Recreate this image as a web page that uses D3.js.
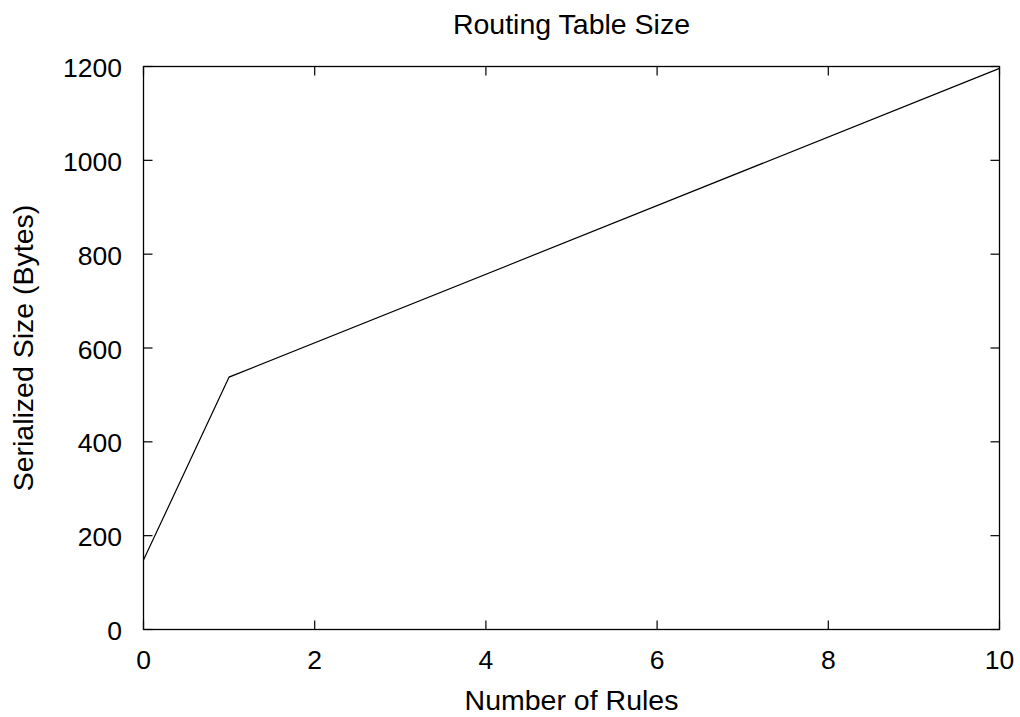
<!DOCTYPE html>
<html><head><meta charset="utf-8">
<script src="https://cdn.jsdelivr.net/npm/d3@7"></script>
<style>body{margin:0;background:#fff}svg{display:block}text{font-family:"Liberation Sans",Arial,sans-serif;fill:#000}</style>
</head><body>
<svg id="c" width="1020" height="717"></svg>
<script>
const rules = [0, 1, 10];
const sizes = [148, 538, 1196];
const xTicks = [0, 2, 4, 6, 8, 10];
const yTicks = [0, 200, 400, 600, 800, 1000, 1200];
const title = "Routing Table Size";
const xLabel = "Number of Rules";
const yLabel = "Serialized Size (Bytes)";

const svg = d3.select("#c");
const L = 143.5, R = 999.5, T = 66.5, B = 629.5;
const x = d3.scaleLinear().domain([0, 10]).range([L, R]);
const y = d3.scaleLinear().domain([0, 1200]).range([B, T]);
const fs = 26.5, fl = 28.5, tl = 9;

// frame
svg.append("rect").attr("x", L).attr("y", T).attr("width", R - L).attr("height", B - T)
  .attr("fill", "none").attr("stroke", "#000").attr("stroke-width", 1.3);

// ticks (inward, mirrored)
const g = svg.append("g").attr("stroke", "#000").attr("stroke-width", 1.2);
xTicks.forEach(t => {
  g.append("line").attr("x1", x(t)).attr("x2", x(t)).attr("y1", B).attr("y2", B - tl);
  g.append("line").attr("x1", x(t)).attr("x2", x(t)).attr("y1", T).attr("y2", T + tl);
});
yTicks.forEach(t => {
  g.append("line").attr("x1", L).attr("x2", L + tl).attr("y1", y(t)).attr("y2", y(t));
  g.append("line").attr("x1", R).attr("x2", R - tl).attr("y1", y(t)).attr("y2", y(t));
});

// tick labels
svg.append("g").selectAll("text").data(xTicks).join("text")
  .attr("x", d => x(d)).attr("y", 669).attr("text-anchor", "middle")
  .attr("font-size", fs).text(d => d);
svg.append("g").selectAll("text").data(yTicks).join("text")
  .attr("x", 122).attr("y", d => y(d) + 10.6).attr("text-anchor", "end")
  .attr("font-size", fs).text(d => d);

// line
const data = rules.map((r, i) => ({r, s: sizes[i]}));
svg.append("path").datum(data)
  .attr("fill", "none").attr("stroke", "#000").attr("stroke-width", 1.2)
  .attr("d", d3.line().x(d => x(d.r)).y(d => y(d.s)));

// titles
svg.append("text").attr("x", (L + R) / 2).attr("y", 34).attr("text-anchor", "middle")
  .attr("font-size", fl).text(title);
svg.append("text").attr("x", (L + R) / 2).attr("y", 710).attr("text-anchor", "middle")
  .attr("font-size", fl).text(xLabel);
svg.append("text").attr("transform", `translate(33,${(T + B) / 2}) rotate(-90)`)
  .attr("text-anchor", "middle").attr("font-size", fl).text(yLabel);
</script>
</body></html>
